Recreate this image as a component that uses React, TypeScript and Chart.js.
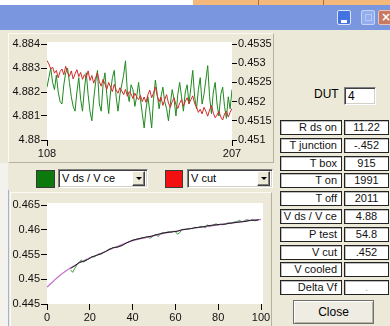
import React, { useEffect, useRef } from "react";
import { Chart, registerables } from "chart.js";

Chart.register(...registerables);

const FONT = '"Liberation Sans Narrow", "Liberation Sans", Arial, sans-serif';

// ---------- top chart data ----------
const topXStart = 108;
const topXTicks = [108, 207];
const topLeftTicks = [4.88, 4.881, 4.882, 4.883, 4.884];
const topRightTicks = [0.451, 0.4515, 0.452, 0.4525, 0.453, 0.4535];
const vdsSeries = [
  4.8822, 4.8826, 4.883, 4.8824, 4.8821, 4.8827, 4.882, 4.8816, 4.8815, 4.8823,
  4.8828, 4.883, 4.8824, 4.8818, 4.8814, 4.8812, 4.882, 4.8826, 4.8817, 4.8812,
  4.8821, 4.8828, 4.8819, 4.8812, 4.8808, 4.8817, 4.8824, 4.8829, 4.8815, 4.8812,
  4.8823, 4.8828, 4.8819, 4.8811, 4.882, 4.8826, 4.8829, 4.8818, 4.8812, 4.8819,
  4.8823, 4.8827, 4.8833, 4.882, 4.8816, 4.8823, 4.8821, 4.8814, 4.8818, 4.8824,
  4.8817, 4.8811, 4.8805, 4.8813, 4.8818, 4.8812, 4.8805, 4.8817, 4.8825, 4.8819,
  4.8813, 4.8818, 4.8822, 4.8816, 4.8813, 4.8808, 4.8815, 4.8821, 4.8817, 4.881,
  4.8819, 4.8824, 4.8818, 4.8812, 4.882, 4.8823, 4.8815, 4.8822, 4.8829, 4.8818,
  4.8813, 4.8821, 4.8826, 4.8815, 4.8819, 4.8825, 4.8831, 4.8818, 4.8811, 4.882,
  4.8824, 4.8815, 4.881, 4.8819, 4.8822, 4.8814, 4.8809, 4.8818, 4.8813, 4.8821,
];
const vcutSeries = [
  0.45307, 0.45298, 0.45285, 0.4529, 0.45274, 0.45281, 0.45262, 0.45278, 0.45285, 0.4527,
  0.45292, 0.45275, 0.45266, 0.4528, 0.45259, 0.45272, 0.45283, 0.45265, 0.45276, 0.45258,
  0.4527, 0.45262, 0.4528, 0.45255, 0.45268, 0.45248, 0.45262, 0.45275, 0.45252, 0.4524,
  0.45258, 0.45246, 0.45232, 0.4525, 0.45238, 0.45226, 0.45245, 0.4523, 0.45222, 0.45236,
  0.45228, 0.45218, 0.45232, 0.45214, 0.45226, 0.4522, 0.45208, 0.45222, 0.45212, 0.45205,
  0.45216, 0.452, 0.45212, 0.45198, 0.45218, 0.4523, 0.4521, 0.45222, 0.45238, 0.45215,
  0.452, 0.45212, 0.4519, 0.45205, 0.45218, 0.45196, 0.45185, 0.452, 0.4521, 0.45192,
  0.45182, 0.45196, 0.45205, 0.45188, 0.452, 0.4521, 0.45195, 0.45205, 0.45215, 0.45195,
  0.45186, 0.45172, 0.4518, 0.45168, 0.45185, 0.45175, 0.45162, 0.45178, 0.4519, 0.4517,
  0.45158, 0.45165, 0.45175, 0.4516, 0.45152, 0.45168, 0.45175, 0.4516, 0.45172, 0.45182,
];

// ---------- bottom chart data ----------
const botXTicks = [0, 20, 40, 60, 80, 100];
const botYTicks = [0.445, 0.45, 0.455, 0.46, 0.465];
const fitX = [0, 5, 10, 15, 20, 25, 30, 35, 40, 45, 50, 55, 60, 65, 70, 75, 80, 85, 90, 95, 100];
const fitY = [
  0.4484, 0.4504, 0.452, 0.4533, 0.4543, 0.4552, 0.4561, 0.457, 0.4578, 0.4583, 0.4588,
  0.4593, 0.4597, 0.4601, 0.4604, 0.4607, 0.461, 0.4613, 0.4616, 0.4619, 0.4621,
];
const measX = [
  11, 13, 15, 17, 19, 21, 23, 25, 27, 29, 31, 33, 35, 37, 39, 41, 43, 45, 47, 49, 51, 53, 55,
  57, 59, 61, 63, 65, 67, 69, 71, 73, 75, 77, 79, 81, 83, 85, 87, 89, 91, 93, 95, 97, 99,
];
const measY = [
  0.4522, 0.4527, 0.4534, 0.4536, 0.454, 0.4545, 0.4548, 0.4551, 0.4555, 0.456,
  0.4564, 0.4565, 0.4568, 0.4573, 0.4577, 0.458, 0.4582, 0.4584, 0.4586, 0.4587,
  0.459, 0.4592, 0.4594, 0.4595, 0.4596, 0.4597, 0.46, 0.4601, 0.4602, 0.4604,
  0.4605, 0.4606, 0.4608, 0.4609, 0.461, 0.4611, 0.4611, 0.4613, 0.4614, 0.4615,
  0.4616, 0.4617, 0.4619, 0.4619, 0.462,
];
const rawXStart = 11;
const rawY = [
  0.4519, 0.4514, 0.4522, 0.4529, 0.4533, 0.4539, 0.4535, 0.4537, 0.454, 0.4543,
  0.4546, 0.4545, 0.4548, 0.4551, 0.455, 0.4553, 0.4555, 0.4558, 0.4561, 0.4562,
  0.4564, 0.4564, 0.4565, 0.4567, 0.4568, 0.4571, 0.4573, 0.4575, 0.4577, 0.4579,
  0.458, 0.4581, 0.4582, 0.4583, 0.4584, 0.4584, 0.4586, 0.4583, 0.4585, 0.4589,
  0.459, 0.4586, 0.4592, 0.4594, 0.4594, 0.4595, 0.4596, 0.4595, 0.4597, 0.4596,
  0.4591, 0.4594, 0.46, 0.4601, 0.4601, 0.4602, 0.4603, 0.4602, 0.4605, 0.4604,
  0.4605, 0.4607, 0.4606, 0.4604, 0.461, 0.4606, 0.4609, 0.461, 0.4612, 0.461,
  0.4611, 0.461, 0.4612, 0.4613, 0.4614, 0.4612, 0.4615, 0.4616, 0.4617, 0.4619,
  0.4616, 0.4617, 0.462, 0.462, 0.4618, 0.4621, 0.4618, 0.4619, 0.4621,
];

// ---------- side panel ----------
const rowLabels = ["R ds on", "T junction", "T box", "T on", "T off", "V ds / V ce", "P test", "V cut", "V cooled", "Delta Vf"];
const rowValues = ["11.22", "-.452", "915", "1991", "2011", "4.88", "54.8", ".452", "", "."];
const dutValue = "4";
const series1Name = "V ds / V ce";
const series2Name = "V cut";

const plotBg = {
  id: "plotBg",
  beforeDraw(chart: any, _args: any, opts: any) {
    const { ctx, chartArea: a } = chart;
    const et = opts.extTop || 0;
    const er = opts.extRight || 0;
    ctx.save();
    ctx.fillStyle = "#ffffff";
    ctx.fillRect(a.left, a.top - et, a.right - a.left + er, a.bottom - a.top + et);
    ctx.restore();
  },
};

const tickFont = { family: FONT, size: 11 };

function fixedTicks(values: number[]) {
  return (s: any) => {
    s.ticks = values.map((v) => ({ value: v }));
  };
}

function axisBase(values: number[], tickLength: number, padding: number) {
  return {
    afterBuildTicks: fixedTicks(values),
    ticks: {
      color: "#111",
      padding,
      autoSkip: false,
      maxRotation: 0,
      font: tickFont,
      callback: (v: any) => String(v),
    },
    grid: { drawOnChartArea: false, drawTicks: true, tickLength, color: "#000", lineWidth: 1 },
    border: { display: false },
  };
}

function TopChart() {
  const ref = useRef<HTMLCanvasElement>(null);
  useEffect(() => {
    const chart = new Chart(ref.current as HTMLCanvasElement, {
      type: "line",
      data: {
        datasets: [
          {
            label: series1Name,
            data: vdsSeries.map((y, i) => ({ x: topXStart + i, y })),
            borderColor: "#1f8a1f",
            borderWidth: 1,
            pointRadius: 0,
            yAxisID: "y",
            order: 1,
          },
          {
            label: series2Name,
            data: vcutSeries.map((y, i) => ({ x: topXStart + i, y })),
            borderColor: "#d42a2a",
            borderWidth: 1,
            pointRadius: 0,
            yAxisID: "y1",
            order: 0,
          },
        ],
      },
      options: {
        animation: false,
        responsive: false,
        layout: { padding: { top: 11, left: 0, right: 0, bottom: 0 } },
        plugins: {
          legend: { display: false },
          tooltip: { enabled: false },
          plotBg: { extTop: 2 },
        } as any,
        scales: {
          x: {
            type: "linear",
            min: 108,
            max: 207,
            ...axisBase(topXTicks, 6, 1),
            afterFit: (s: any) => {
              s.height = 23;
            },
          } as any,
          y: {
            position: "left",
            min: 4.88,
            max: 4.884,
            ...axisBase(topLeftTicks, 6, 1),
            afterFit: (s: any) => {
              s.width = 39;
            },
          } as any,
          y1: {
            position: "right",
            min: 0.451,
            max: 0.4535,
            ...axisBase(topRightTicks, 5, 1),
            afterFit: (s: any) => {
              s.width = 42;
            },
          } as any,
        },
      },
      plugins: [plotBg],
    });
    return () => chart.destroy();
  }, []);
  return <canvas ref={ref} width={266} height={130} style={{ position: "absolute", left: 8, top: 33 }} />;
}

function BottomChart() {
  const ref = useRef<HTMLCanvasElement>(null);
  useEffect(() => {
    const chart = new Chart(ref.current as HTMLCanvasElement, {
      type: "line",
      data: {
        datasets: [
          {
            label: "measured",
            data: measY.map((y, i) => ({ x: measX[i], y })),
            borderColor: "#202020",
            borderWidth: 1,
            pointRadius: 0,
            order: 0,
          },
          {
            label: "raw",
            data: rawY.map((y, i) => ({ x: rawXStart + i, y })),
            borderColor: "#3c9c3c",
            borderWidth: 1,
            pointRadius: 0,
            order: 2,
          },
          {
            label: "fit",
            data: fitY.map((y, i) => ({ x: fitX[i], y })),
            borderColor: "#c070c8",
            borderWidth: 1.2,
            pointRadius: 0,
            cubicInterpolationMode: "monotone",
            order: 1,
          },
        ],
      },
      options: {
        animation: false,
        responsive: false,
        layout: { padding: { top: 12, left: 0, right: 11, bottom: 0 } },
        plugins: {
          legend: { display: false },
          tooltip: { enabled: false },
          plotBg: { extTop: 2, extRight: 2 },
        } as any,
        scales: {
          x: {
            type: "linear",
            min: 0,
            max: 100,
            ...axisBase(botXTicks, 6, 1),
            afterFit: (s: any) => {
              s.height = 22;
            },
          } as any,
          y: {
            position: "left",
            min: 0.445,
            max: 0.465,
            ...axisBase(botYTicks, 6, 1),
            afterFit: (s: any) => {
              s.width = 37;
            },
          } as any,
        },
      },
      plugins: [plotBg],
    });
    return () => chart.destroy();
  }, []);
  return <canvas ref={ref} width={262} height={133} style={{ position: "absolute", left: 10, top: 193 }} />;
}

const abs = (left: number, top: number, width: number, height: number, extra: any = {}) => ({
  position: "absolute" as const,
  left,
  top,
  width,
  height,
  boxSizing: "border-box" as const,
  ...extra,
});

const sunken = {
  borderTop: "1px solid #808080",
  borderLeft: "1px solid #808080",
  borderBottom: "1px solid #ffffff",
  borderRight: "1px solid #ffffff",
  boxShadow: "inset 1px 1px 0 #404040, inset -1px -1px 0 #d4d0c8",
  background: "#fff",
};

const raised = {
  borderTop: "1px solid #ffffff",
  borderLeft: "1px solid #ffffff",
  borderBottom: "1px solid #404040",
  borderRight: "1px solid #404040",
  boxShadow: "inset -1px -1px 0 #808080",
  background: "#ece9d8",
};

function Combo({ left, top, width, text }: { left: number; top: number; width: number; text: string }) {
  return (
    <div style={abs(left, top, width, 19, sunken)}>
      <div style={{ position: "absolute", left: 3, top: 2, lineHeight: "13px", whiteSpace: "nowrap" }}>{text}</div>
      <div style={abs(width - 17, 1, 13, 15, raised)}>
        <div
          style={{
            position: "absolute",
            left: 3,
            top: 5,
            width: 0,
            height: 0,
            borderLeft: "3px solid transparent",
            borderRight: "3px solid transparent",
            borderTop: "3px solid #000",
          }}
        />
      </div>
    </div>
  );
}

export default function App() {
  const rowPitch = 17.8;
  return (
    <div
      style={{
        position: "fixed",
        left: 0,
        top: 0,
        width: 390,
        height: 326,
        overflow: "hidden",
        background: "#ece9d8",
        fontFamily: FONT,
        fontSize: 11,
        color: "#000",
      }}
    >
      {/* strip above window */}
      <div style={abs(0, 0, 193, 5, { background: "#ffffff" })} />
      <div style={abs(193, 0, 197, 5, { background: "#f4b87b" })} />
      <div style={abs(258, 0, 1, 5, { background: "#a87040" })} />
      <div style={abs(323, 0, 1, 5, { background: "#a87040" })} />
      {/* title bar */}
      <div style={abs(0, 5, 390, 25, { background: "#7a96df" })} />
      <div style={abs(337, 10, 14, 15, { background: "#4273e0", border: "1px solid #dfe6f8", borderRadius: 2 })}>
        <div style={abs(3, 9, 6, 3, { background: "#fff" })} />
      </div>
      <div style={abs(361, 10, 14, 15, { background: "#93aeee", border: "1px solid #c7d5f5", borderRadius: 2 })}>
        <div style={abs(3, 3, 7, 7, { border: "1px solid #b7c9f3" })} />
      </div>
      <div style={abs(378, 10, 14, 15, { background: "#c9795f", border: "1px solid #ecc3b3", borderRadius: 2 })}>
        <div style={{ position: "absolute", left: 2, top: -1, color: "#fff", fontSize: 12, fontWeight: "bold", fontFamily: "DejaVu Sans" }}>×</div>
      </div>

      {/* left strip of background window */}
      <div style={abs(0, 163, 8, 163, { background: "#f3f2ec" })} />
      <div style={abs(8, 190, 1, 136, { background: "#9fb2de" })} />

      {/* top chart panel */}
      <div
        style={abs(8, 33, 266, 130, {
          borderTop: "1px solid #fbfaf5",
          borderLeft: "1px solid #fbfaf5",
          borderRight: "1px solid #b5b19f",
          borderBottom: "1px solid #b5b19f",
        })}
      />
      <TopChart />

      {/* legend selectors */}
      <div style={abs(36, 170, 19, 18, { background: "#0b790b", border: "1px solid #3a3a3a" })} />
      <Combo left={58} top={169} width={90} text={series1Name} />
      <div style={abs(165, 170, 18, 18, { background: "#f21010", border: "1px solid #3a3a3a" })} />
      <Combo left={187} top={169} width={86} text={series2Name} />

      {/* bottom chart panel */}
      <div
        style={abs(10, 192, 262, 134, {
          borderTop: "1px solid #fbfaf5",
          borderLeft: "1px solid #fbfaf5",
          borderRight: "1px solid #b5b19f",
        })}
      />
      <BottomChart />

      {/* DUT */}
      <div style={{ position: "absolute", left: 314, top: 87, lineHeight: "14px", fontSize: 12 }}>DUT</div>
      <div style={abs(344, 87, 32, 18, sunken)}>
        <div style={{ position: "absolute", left: 3, top: 1, lineHeight: "14px", fontSize: 12 }}>{dutValue}</div>
      </div>

      {/* table */}
      {rowLabels.map((lab, i) => {
        const top = Math.round(120 + i * rowPitch);
        return (
          <React.Fragment key={lab}>
            <div
              style={abs(280, top, 62, 15, {
                background: "#fff",
                border: "1px solid #222",
                boxShadow: "inset 1px 1px 0 #bdbdbd",
                textAlign: "right",
                paddingRight: 4,
                lineHeight: "13px",
                whiteSpace: "nowrap",
                color: "#111",
              })}
            >
              {lab}
            </div>
            <div
              style={abs(344, top, 45, 15, {
                background: "#fff",
                border: "1px solid #222",
                boxShadow: "inset 1px 1px 0 #bdbdbd",
                textAlign: "center",
                lineHeight: "13px",
                color: i === rowLabels.length - 1 ? "#a8a8a8" : "#111",
              })}
            >
              {rowValues[i]}
            </div>
          </React.Fragment>
        );
      })}

      {/* Close button */}
      <div
        style={abs(293, 300, 81, 24, {
          border: "1px solid #6f6f6f",
          boxShadow: "inset 1px 1px 0 #ffffff, inset -1px -1px 0 #b8b4a4",
          background: "#efede3",
          textAlign: "center",
          lineHeight: "22px",
          fontSize: 12,
        })}
      >
        Close
      </div>
    </div>
  );
}
